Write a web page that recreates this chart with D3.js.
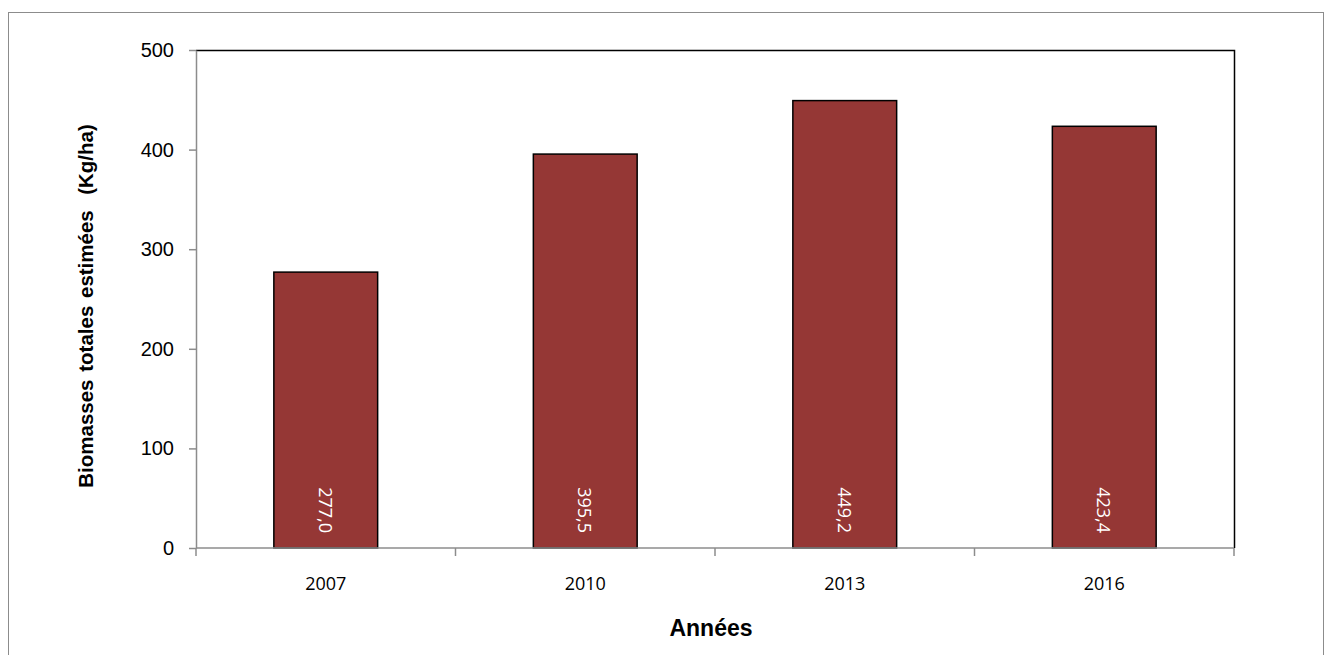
<!DOCTYPE html>
<html lang="fr">
<head>
<meta charset="UTF-8">
<title>Biomasses totales estimées</title>
<script src="https://d3js.org/d3.v7.min.js"></script>
<style>
  body { margin: 0; background: #fff; }
</style>
</head>
<body>
<div id="chart"></div>
<script>
const years = ["2007", "2010", "2013", "2016"];
const biomass = [277.0, 395.5, 449.2, 423.4];
const yTicks = [0, 100, 200, 300, 400, 500];

const width = 1325, height = 655;
const margin = { top: 50, right: 91, bottom: 107, left: 196 };

const svg = d3.select("#chart").append("svg")
    .attr("width", width)
    .attr("height", height);

// outer frame
svg.append("rect")
    .attr("x", 8.5).attr("y", 12.5)
    .attr("width", 1315).attr("height", 660)
    .attr("fill", "none")
    .attr("stroke", "#8c8c8c");

const x = d3.scaleBand()
    .domain(years)
    .range([margin.left, width - margin.right])
    .paddingInner(0.6)
    .paddingOuter(0.3);

const y = d3.scaleLinear()
    .domain([0, 500])
    .range([height - margin.bottom, margin.top]);

const x0 = margin.left, x1 = width - margin.right;
const y0 = height - margin.bottom, y1 = margin.top;

// top and right borders of plot area
svg.append("path")
    .attr("d", `M${x0},${y1 + 0.5}H${x1 + 0.5}V${y0}`)
    .attr("fill", "none")
    .attr("stroke", "#000")
    .attr("stroke-width", 1.5);

// bars
svg.selectAll("rect.bar")
    .data(years)
    .join("rect")
    .attr("class", "bar")
    .attr("x", d => x(d))
    .attr("y", (d, i) => y(biomass[i]))
    .attr("width", x.bandwidth())
    .attr("height", (d, i) => y(0) - y(biomass[i]))
    .attr("fill", "#953735")
    .attr("stroke", "#000")
    .attr("stroke-width", 1.5);

// value labels
const fmt = v => d3.format(".1f")(v).replace(".", ",");
svg.selectAll("text.val")
    .data(years)
    .join("text")
    .attr("class", "val")
    .attr("transform", d => `translate(${x(d) + x.bandwidth() / 2 - 7},${y(0) - 15}) rotate(90)`)
    .attr("text-anchor", "end")
    .attr("font-family", "'Open Sans', sans-serif")
    .attr("font-size", 18)
    .attr("fill", "#fff")
    .text((d, i) => fmt(biomass[i]));

// y axis
const yAxis = svg.append("g")
    .attr("transform", `translate(${x0},0)`)
    .call(d3.axisLeft(y).tickValues(yTicks).tickSize(7).tickSizeOuter(0).tickPadding(15));
yAxis.select(".domain").attr("stroke", "#8c8c8c").attr("stroke-width", 1.5);
yAxis.selectAll(".tick line").attr("stroke", "#8c8c8c").attr("stroke-width", 1.5);
yAxis.selectAll(".tick text")
    .attr("font-family", "Arial, 'Liberation Sans', sans-serif")
    .attr("font-size", 20)
    .attr("fill", "#000");

// x axis line with boundary ticks
const xBase = svg.append("g");
xBase.append("line")
    .attr("x1", x0).attr("x2", x1)
    .attr("y1", y0).attr("y2", y0)
    .attr("stroke", "#8c8c8c").attr("stroke-width", 1.5);
const bounds = d3.range(years.length + 1).map(i => x0 + i * (x1 - x0) / years.length);
xBase.selectAll("line.b")
    .data(bounds)
    .join("line")
    .attr("class", "b")
    .attr("x1", d => d).attr("x2", d => d)
    .attr("y1", y0).attr("y2", y0 + 8)
    .attr("stroke", "#8c8c8c").attr("stroke-width", 1.5);

svg.selectAll("text.cat")
    .data(years)
    .join("text")
    .attr("class", "cat")
    .attr("x", d => x(d) + x.bandwidth() / 2)
    .attr("y", 590)
    .attr("text-anchor", "middle")
    .attr("font-family", "'Open Sans', sans-serif")
    .attr("font-size", 18)
    .attr("fill", "#000")
    .text(d => d);

// axis titles
svg.append("text")
    .attr("x", (x0 + x1) / 2 - 4)
    .attr("y", 636)
    .attr("text-anchor", "middle")
    .attr("font-family", "Arial, 'Liberation Sans', sans-serif")
    .attr("font-size", 23)
    .attr("font-weight", "bold")
    .text("Années");

svg.append("text")
    .attr("transform", `translate(93,306) rotate(-90)`)
    .attr("text-anchor", "middle")
    .attr("font-family", "Arial, 'Liberation Sans', sans-serif")
    .attr("font-size", 20.5)
    .attr("font-weight", "bold")
    .attr("word-spacing", 2)
    .attr("xml:space", "preserve")
    .style("white-space", "pre")
    .text("Biomasses totales estimées  (Kg/ha)");
</script>
</body>
</html>
